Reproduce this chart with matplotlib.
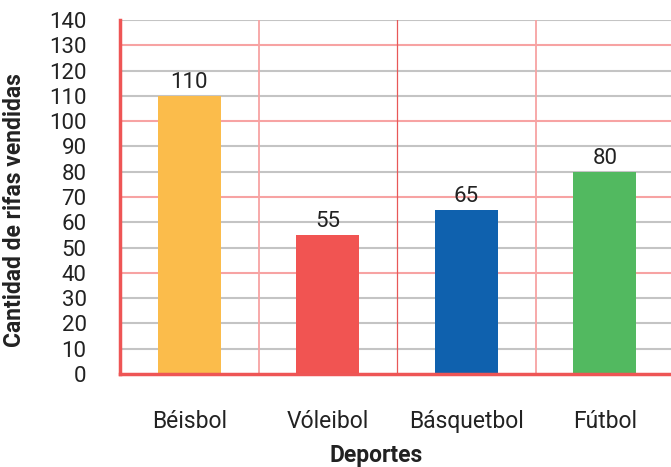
import matplotlib
matplotlib.use("Agg")
import matplotlib.pyplot as plt

deportes = ["Béisbol", "Vóleibol", "Básquetbol", "Fútbol"]
rifas = [110, 55, 65, 80]
colores = ["#FBBC4B", "#F15452", "#0F61AE", "#52B960"]
yticks = list(range(0, 150, 10))

plt.rcParams['font.family'] = ['Roboto', 'DejaVu Sans']

fig = plt.figure(figsize=(6.71, 4.67), dpi=100)
ax = fig.add_axes([120 / 671, 1 - 374 / 467, 554 / 671, 354 / 467])

x = list(range(len(deportes)))
ax.bar(x, rifas, width=0.455, color=colores, zorder=3)
for xi, v in zip(x, rifas):
    ax.text(xi, v + 1.2, str(v), ha="center", va="bottom", fontsize=16, color="#222222", zorder=4)

ax.set_xlim(-0.5, 3.5)
ax.set_ylim(0, 140)
ax.set_yticks(yticks)
ax.set_xticks(x)
ax.set_xticklabels(deportes)
ax.tick_params(axis="both", length=0, colors="#222222")
ax.tick_params(axis="x", labelsize=16.5, pad=26)
ax.tick_params(axis="y", labelsize=16, pad=24)

# horizontal grid: pink every 30 from 40, gray otherwise
for v in yticks[1:]:
    col = "#F7A3A3" if v in (40, 70, 100, 130) else "#C4C4C4"
    ax.axhline(v, color=col, lw=1.5, zorder=1)

# vertical separators between categories
ax.axvline(0.5, color="#F7A3A3", lw=1.3, zorder=1)
ax.axvline(1.5, color="#E85858", lw=0.9, zorder=1)
ax.axvline(2.5, color="#F7A3A3", lw=1.3, zorder=1)

for s in ("top", "right"):
    ax.spines[s].set_visible(False)
ax.spines["left"].set_color("#EE5555")
ax.spines["left"].set_linewidth(2.5)
ax.spines["bottom"].set_color("#EE5555")
ax.spines["bottom"].set_linewidth(2.5)
ax.spines["bottom"].set_zorder(5)

ax.set_ylabel("Cantidad de rifas vendidas", fontsize=16.5, fontweight="bold", color="#222222", va="center")
ax.yaxis.set_label_coords(-0.19, 0.463)
ax.set_xlabel("Deportes", fontsize=16.5, fontweight="bold", color="#222222", va="center")
ax.xaxis.set_label_coords(0.462, -0.229)

fig.savefig("out.png", dpi=100)
